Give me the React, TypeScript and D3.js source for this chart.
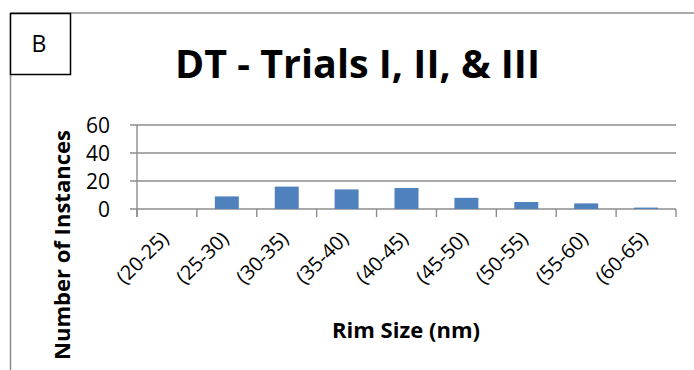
import React from "react";
import * as d3 from "d3";

const categories = ["(20-25)", "(25-30)", "(30-35)", "(35-40)", "(40-45)", "(45-50)", "(50-55)", "(55-60)", "(60-65)"];
const counts = [0, 9, 16, 14, 15, 8, 5, 4, 1];
const yTicks = [0, 20, 40, 60];

const W = 694;
const H = 370;
const plot = { left: 137, right: 676, top: 125, bottom: 209 };
const FONT = "'Open Sans', 'Liberation Sans', sans-serif";
const GRID = "#8c8c8c";

export default function App() {
  const x = d3.scaleBand<string>().domain(categories).range([plot.left, plot.right]).paddingInner(0).paddingOuter(0);
  const y = d3.scaleLinear().domain([0, 60]).range([plot.bottom, plot.top]);
  const bw = x.bandwidth() * 0.4;
  const tickXs = [...categories.map((c) => x(c) as number), plot.right];

  return (
    <svg width={W} height={H} style={{ position: "absolute", left: 0, top: 0 }} fontFamily={FONT}>
      <rect x={0} y={0} width={W} height={H} fill="#fff" />
      {/* outer frame */}
      <line x1={10.5} y1={13} x2={W} y2={13} stroke={GRID} strokeWidth={1.5} />
      <line x1={10.5} y1={13} x2={10.5} y2={H} stroke={GRID} strokeWidth={1.5} />
      {/* B box */}
      <rect x={10.5} y={13.5} width={60} height={61} fill="#fff" stroke="#000" strokeWidth={1.5} />
      <text x={39} y={52} textAnchor="middle" fontSize={23} fill="#000">B</text>
      {/* title */}
      <text x={175} y={78} textAnchor="start" fontSize={39} fontWeight="bold" fill="#000" textLength={365} lengthAdjust="spacingAndGlyphs">DT - Trials I, II, &amp; III</text>
      {/* gridlines */}
      {yTicks.map((t) => (
        <g key={t}>
          <line x1={plot.left - 7} x2={plot.right} y1={y(t)} y2={y(t)} stroke={GRID} strokeWidth={1.4} />
          <text x={110} y={y(t) + 7.5} textAnchor="end" fontSize={21} fill="#000">{t}</text>
        </g>
      ))}
      {/* y axis line */}
      <line x1={plot.left} x2={plot.left} y1={plot.top} y2={plot.bottom + 8} stroke={GRID} strokeWidth={1.4} />
      {tickXs.map((tx, i) => (
        <line key={i} x1={tx} x2={tx} y1={plot.bottom} y2={plot.bottom + 8} stroke={GRID} strokeWidth={1.4} />
      ))}
      {/* bars */}
      {categories.map((c, i) => (
        <rect
          key={c}
          x={(x(c) as number) + (x.bandwidth() - bw) / 2}
          y={y(counts[i])}
          width={bw}
          height={plot.bottom - y(counts[i])}
          fill="#4f81bd"
        />
      ))}
      {/* x tick labels */}
      {categories.map((c) => {
        const cx = (x(c) as number) + x.bandwidth() / 2 + 3;
        const cy = 240;
        return (
          <text key={c} x={cx} y={cy} textAnchor="end" fontSize={20} fill="#000" transform={`rotate(-45 ${cx} ${cy})`}>
            {c}
          </text>
        );
      })}
      {/* axis titles */}
      <text x={406} y={338} textAnchor="middle" fontSize={21} fontWeight="bold" fill="#000" textLength={148} lengthAdjust="spacingAndGlyphs">Rim Size (nm)</text>
      <text x={0} y={0} textAnchor="middle" fontSize={22} fontWeight="bold" fill="#000" textLength={230} lengthAdjust="spacingAndGlyphs" transform={`translate(70 245) rotate(-90)`}>Number of Instances</text>
    </svg>
  );
}
